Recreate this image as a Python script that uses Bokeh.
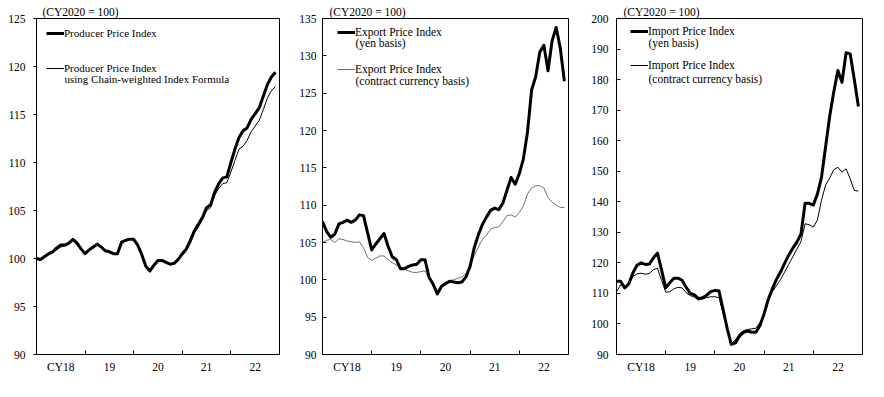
from bokeh.plotting import figure
from bokeh.layouts import row
from bokeh.models import Range1d, FixedTicker, Legend, LegendItem, Label, ColumnDataSource
from bokeh.embed import file_html
from bokeh.resources import INLINE

# ---- data: monthly, Jan 2018 (0) .. Dec 2022 (59) ----
months = list(range(60))
year_labels = ["CY18", "19", "20", "21", "22"]
year_label_pos = [6, 18, 30, 42, 54]
year_bounds = [12, 24, 36, 48]

ppi = [100.0, 99.9, 100.2, 100.5, 100.7, 101.1, 101.4, 101.4, 101.6, 102.0, 101.6, 101.0,
       100.5, 100.9, 101.2, 101.5, 101.2, 100.8, 100.7, 100.5, 100.5, 101.7, 101.9, 102.0,
       102.0, 101.4, 100.4, 99.2, 98.7, 99.3, 99.8, 99.8, 99.6, 99.4, 99.5, 99.9,
       100.5, 101.0, 101.9, 102.9, 103.6, 104.3, 105.3, 105.6, 106.9, 107.8, 108.4, 108.5,
       110.0, 111.4, 112.6, 113.3, 113.6, 114.5, 115.1, 115.7, 116.9, 118.1, 118.9, 119.4]
ppi_chain = [99.9, 99.8, 100.1, 100.4, 100.6, 100.9, 101.2, 101.3, 101.5, 101.9, 101.5, 100.9,
             100.5, 100.8, 101.1, 101.4, 101.1, 100.8, 100.6, 100.5, 100.5, 101.6, 101.8, 102.0,
             102.0, 101.4, 100.4, 99.2, 98.7, 99.3, 99.8, 99.8, 99.6, 99.4, 99.5, 99.8,
             100.3, 100.8, 101.6, 102.7, 103.3, 104.1, 105.0, 105.3, 106.6, 107.3, 107.8, 107.9,
             109.0, 110.2, 111.4, 111.7, 112.3, 113.2, 113.8, 114.4, 115.5, 116.7, 117.5, 117.9]

export_yen = [107.8, 106.5, 105.7, 106.1, 107.5, 107.7, 108.0, 107.7, 108.0, 108.7, 108.6, 106.3,
              104.0, 104.8, 105.5, 106.2, 104.5, 103.1, 102.7, 101.5, 101.5, 101.8, 102.0, 102.1,
              102.7, 102.7, 100.3, 99.4, 98.1, 99.1, 99.5, 99.8, 99.7, 99.6, 99.7, 100.4,
              101.8, 104.3, 106.0, 107.4, 108.4, 109.3, 109.6, 109.4, 110.3, 112.0, 113.7, 112.8,
              114.2, 116.2, 119.8, 125.4, 127.2, 130.5, 131.4, 128.0, 132.0, 133.8, 131.0, 126.6]
export_contract = [105.0, 105.3, 105.4, 105.0, 105.5, 105.4, 105.2, 105.1, 105.0, 105.1, 104.3, 103.0,
                   102.6, 102.9, 103.2, 103.2, 102.7, 102.3, 102.0, 101.6, 101.4, 101.2, 101.0, 101.0,
                   101.1, 101.2, 100.2, 99.2, 98.3, 99.2, 99.6, 99.9, 100.0, 100.2, 100.4, 100.8,
                   101.9, 103.2, 104.4, 105.4, 106.0, 106.8, 107.0, 107.1, 107.8, 108.6, 108.7, 108.4,
                   109.0, 109.9, 111.5, 112.3, 112.6, 112.6, 112.3, 111.0, 110.4, 110.0, 109.7, 109.7]

import_yen = [114.0, 114.0, 111.8, 113.1, 116.7, 119.2, 120.0, 119.5, 119.6, 121.6, 123.2, 117.6,
              111.8, 113.5, 115.0, 115.0, 114.3, 112.0, 110.0, 109.5, 108.3, 108.6, 109.4, 110.6,
              111.0, 110.8, 104.7, 98.5, 93.3, 93.8, 96.0, 97.3, 97.7, 97.3, 97.3, 99.5,
              103.3, 108.0, 111.5, 114.5, 117.0, 119.8, 122.5, 124.8, 126.8, 129.5, 139.5, 139.5,
              138.9, 142.5, 148.0, 158.0, 168.0, 176.0, 183.0, 179.1, 188.8, 188.4, 180.0, 171.2]
import_contract = [110.5, 112.8, 111.8, 113.0, 115.5, 116.4, 116.6, 116.3, 116.5, 117.8, 118.2, 114.3,
                   110.4, 110.5, 111.5, 112.0, 111.8, 110.2, 109.3, 108.8, 107.8, 108.2, 108.6, 108.9,
                   108.9, 108.6, 103.5, 98.3, 93.6, 94.8, 96.8, 97.8, 98.2, 98.4, 98.6, 100.5,
                   103.0, 107.3, 110.5, 112.5, 114.5, 117.0, 119.5, 122.0, 124.5, 127.0, 132.8, 132.5,
                   131.7, 134.0, 140.5, 145.5, 147.8, 150.5, 151.3, 149.7, 150.8, 147.5, 143.7, 143.5]

unit_label = "(CY2020 = 100)"

FONT = "Liberation Serif"


def make_panel(width, b_left, b_right, y_end, y_step, tick_in, tick_out, standoff,
               s_thick, s_thin, thin_color, names, sublabels, leg_x, leg_spacing, leg_y,
               title_x, leg_font):
    p = figure(width=width, height=378, output_backend="svg", toolbar_location=None,
               x_range=Range1d(0, 60), y_range=Range1d(90, y_end),
               min_border_left=b_left, min_border_right=b_right,
               min_border_top=18, min_border_bottom=24)
    p.grid.visible = False
    p.outline_line_color = "black"
    p.outline_line_width = 1
    p.background_fill_color = "white"
    p.border_fill_color = "white"

    p.title.text = unit_label
    p.title.align = "left"
    p.title.offset = title_x
    p.title.standoff = 2
    p.title.text_font = FONT
    p.title.text_font_size = "11.5px"
    p.title.text_font_style = "normal"
    p.title.text_color = "black"

    xa = p.xaxis[0]
    xa.ticker = FixedTicker(ticks=year_label_pos, minor_ticks=year_bounds)
    xa.major_label_overrides = {pos: lab for pos, lab in zip(year_label_pos, year_labels)}
    xa.major_tick_in = 0
    xa.major_tick_out = 0
    xa.minor_tick_in = 4
    xa.minor_tick_out = 0
    xa.minor_tick_line_color = "black"
    xa.major_label_standoff = 6

    ya = p.yaxis[0]
    ya.ticker = FixedTicker(ticks=list(range(90, y_end + 1, y_step)))
    ya.major_tick_in = tick_in
    ya.major_tick_out = tick_out
    ya.minor_tick_line_color = None
    ya.major_label_standoff = standoff

    for ax in (xa, ya):
        ax.axis_line_color = "black"
        ax.major_tick_line_color = "black"
        ax.major_label_text_font = FONT
        ax.major_label_text_font_size = "11.5px"
        ax.major_label_text_color = "black"

    src = ColumnDataSource(dict(m=months, a=s_thick, b=s_thin))
    r_thin = p.line("m", "b", source=src, line_width=1, line_color=thin_color, line_join="round")
    r_thick = p.line("m", "a", source=src, line_width=3, line_color="black", line_join="round")

    leg = Legend(items=[LegendItem(label=names[0], renderers=[r_thick]),
                        LegendItem(label=names[1], renderers=[r_thin])],
                 location=(leg_x, leg_y), orientation="vertical",
                 glyph_width=18, glyph_height=16, label_height=16, label_standoff=0,
                 spacing=leg_spacing, padding=0, margin=0,
                 border_line_color=None, background_fill_alpha=0,
                 label_text_font=FONT, label_text_font_size=leg_font, label_text_color="black")
    p.add_layout(leg)

    for txt, yy in sublabels:
        p.add_layout(Label(x=leg_x + 18, y=yy, x_units="screen", y_units="screen", text=txt,
                           text_font=FONT, text_font_size=leg_font, text_color="black",
                           text_baseline="middle", text_align="left"))
    return p


p1 = make_panel(290, 36, 11, 125, 5, 0, 3, 8, ppi, ppi_chain, "black",
                ["Producer Price Index", "Producer Price Index"],
                [("using Chain-weighted Index Formula", 276)],
                10, 19, 278, 6, "11px")
p2 = make_panel(294, 32, 16, 135, 5, 4, 0, 6, export_yen, export_contract, "#707070",
                ["Export Price Index", "Export Price Index"],
                [("(yen basis)", 312), ("(contract currency basis)", 274)],
                15, 21, 277, 7, "11.5px")
p3 = make_panel(286, 32, 8, 200, 10, 4, 0, 8, import_yen, import_contract, "black",
                ["Import Price Index", "Import Price Index"],
                [("(yen basis)", 312), ("(contract currency basis)", 276)],
                14, 18, 281, 7, "11.5px")

layout = row(p1, p2, p3)

open("out.html", "w").write(file_html(layout, INLINE))
